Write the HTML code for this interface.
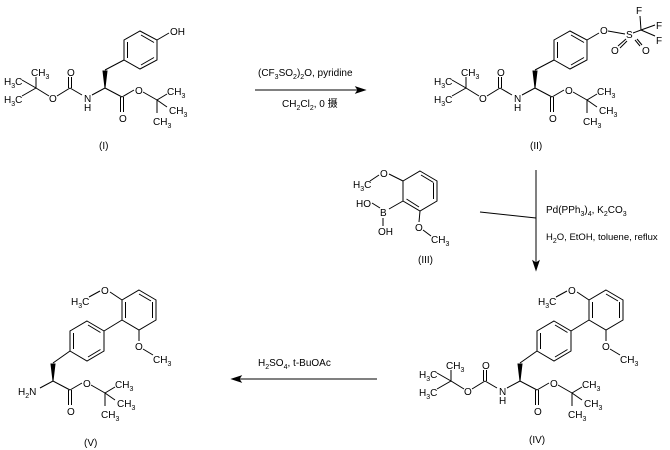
<!DOCTYPE html>
<html><head><meta charset="utf-8"><style>
html,body{margin:0;padding:0;background:#fff;}
svg{display:block;}
text{font-family:"Liberation Sans","Noto Sans CJK SC",sans-serif;font-size:10px;fill:#000;}
.s{font-size:7px;}
line,polyline,polygon{stroke:#000;stroke-width:1;fill:none;}
.f{fill:#000;}
</style></head><body>
<svg width="670" height="450" viewBox="0 0 670 450" xmlns="http://www.w3.org/2000/svg">

<!-- Compound I backbone -->
<g>
<line x1="22" y1="80" x2="36" y2="88"/><line x1="22" y1="96" x2="36" y2="88"/><line x1="36" y1="88" x2="36" y2="77"/>
<line x1="36" y1="88" x2="49" y2="96"/><line x1="57" y1="96" x2="70" y2="88"/>
<line x1="68.5" y1="88" x2="68.5" y2="77"/><line x1="71.5" y1="88" x2="71.5" y2="77"/>
<line x1="70" y1="88" x2="82" y2="95"/><line x1="92" y1="95" x2="105" y2="88"/>
<polygon class="f" points="105,88 103,71 107,71"/>
<line x1="105" y1="88" x2="122" y2="97"/>
<line x1="120.5" y1="97" x2="120.5" y2="112"/><line x1="123.5" y1="97" x2="123.5" y2="112"/>
<line x1="122" y1="97" x2="134" y2="90"/><line x1="143" y1="92" x2="157" y2="100"/>
<line x1="157" y1="100" x2="167" y2="94"/><line x1="157" y1="100" x2="167" y2="107"/><line x1="157" y1="100" x2="157" y2="113"/>
<text x="4" y="85">H<tspan class="s" dy="3">3</tspan><tspan dy="-3">C</tspan></text>
<text x="4" y="103">H<tspan class="s" dy="3">3</tspan><tspan dy="-3">C</tspan></text>
<text x="31" y="76">CH<tspan class="s" dy="3">3</tspan></text>
<text x="49" y="102">O</text>
<text x="67" y="76">O</text>
<text x="84" y="102">N</text>
<text x="84" y="111">H</text>
<text x="135" y="94">O</text>
<text x="119" y="122">O</text>
<text x="167" y="95">CH<tspan class="s" dy="3">3</tspan></text>
<text x="169" y="114">CH<tspan class="s" dy="3">3</tspan></text>
<text x="153" y="125">CH<tspan class="s" dy="3">3</tspan></text>
</g>
<polygon points="124,40 140,31 157,40 157,60 140,69 124,60"/>
<line x1="127.5" y1="42" x2="127.5" y2="58"/><line x1="141" y1="35" x2="154" y2="42.5"/><line x1="154" y1="57.5" x2="141" y2="65"/>
<line x1="105" y1="70" x2="124" y2="60"/>
<line x1="157" y1="40" x2="169" y2="33"/>
<text x="170" y="35">OH</text>
<text x="99" y="149">(I)</text>

<!-- Compound II -->
<g transform="translate(430,0)">
<line x1="22" y1="80" x2="36" y2="88"/><line x1="22" y1="96" x2="36" y2="88"/><line x1="36" y1="88" x2="36" y2="77"/>
<line x1="36" y1="88" x2="49" y2="96"/><line x1="57" y1="96" x2="70" y2="88"/>
<line x1="68.5" y1="88" x2="68.5" y2="77"/><line x1="71.5" y1="88" x2="71.5" y2="77"/>
<line x1="70" y1="88" x2="82" y2="95"/><line x1="92" y1="95" x2="105" y2="88"/>
<polygon class="f" points="105,88 103,71 107,71"/>
<line x1="105" y1="88" x2="122" y2="97"/>
<line x1="120.5" y1="97" x2="120.5" y2="112"/><line x1="123.5" y1="97" x2="123.5" y2="112"/>
<line x1="122" y1="97" x2="134" y2="90"/><line x1="143" y1="92" x2="157" y2="100"/>
<line x1="157" y1="100" x2="167" y2="94"/><line x1="157" y1="100" x2="167" y2="107"/><line x1="157" y1="100" x2="157" y2="113"/>
<text x="4" y="85">H<tspan class="s" dy="3">3</tspan><tspan dy="-3">C</tspan></text>
<text x="4" y="103">H<tspan class="s" dy="3">3</tspan><tspan dy="-3">C</tspan></text>
<text x="31" y="76">CH<tspan class="s" dy="3">3</tspan></text>
<text x="49" y="102">O</text>
<text x="67" y="76">O</text>
<text x="84" y="102">N</text>
<text x="84" y="111">H</text>
<text x="135" y="94">O</text>
<text x="119" y="122">O</text>
<text x="167" y="95">CH<tspan class="s" dy="3">3</tspan></text>
<text x="169" y="114">CH<tspan class="s" dy="3">3</tspan></text>
<text x="153" y="125">CH<tspan class="s" dy="3">3</tspan></text>
<polygon points="124,40 140,31 157,40 157,60 140,69 124,60"/>
<line x1="127.5" y1="42" x2="127.5" y2="58"/><line x1="141" y1="35" x2="154" y2="42.5"/><line x1="154" y1="57.5" x2="141" y2="65"/>
<line x1="105" y1="70" x2="124" y2="60"/>
<line x1="157" y1="40" x2="169" y2="33"/>
<text x="170" y="34">O</text>
<line x1="178" y1="31" x2="195" y2="34"/>
<text x="196" y="38">S</text>
<line x1="203" y1="33" x2="211" y2="30"/>
<line x1="188" y1="46" x2="196" y2="39"/><line x1="190" y1="48" x2="197" y2="41"/>
<line x1="205" y1="40" x2="210" y2="46"/><line x1="207" y1="39" x2="212" y2="45"/>
<text x="181" y="54">O</text><text x="212" y="54">O</text>
<line x1="211" y1="30" x2="210" y2="16"/><line x1="211" y1="30" x2="225" y2="25"/><line x1="211" y1="30" x2="225" y2="36"/>
<text x="206" y="14">F</text><text x="226" y="29">F</text><text x="226" y="44">F</text>
<text x="100" y="149">(II)</text>
</g>

<!-- Top arrow -->
<line x1="255" y1="90" x2="362" y2="90"/>
<polygon class="f" points="365,90 356,87 358,90 356,93"/>
<text x="258" y="76">(CF<tspan class="s" dy="3">3</tspan><tspan dy="-3">SO</tspan><tspan class="s" dy="3">2</tspan><tspan dy="-3">)</tspan><tspan class="s" dy="3">2</tspan><tspan dy="-3">O, pyridine</tspan></text>
<text x="282" y="107">CH<tspan class="s" dy="3">2</tspan><tspan dy="-3">Cl</tspan><tspan class="s" dy="3">2</tspan><tspan dy="-3">, 0 摄</tspan></text>

<!-- Compound III -->
<polygon points="420,171 437,181 437,201 420,211 403,201 403,181"/>
<line x1="421" y1="175" x2="433.5" y2="182.5"/><line x1="433.5" y1="183" x2="433.5" y2="199"/><line x1="406.5" y1="199" x2="419" y2="207"/>
<line x1="403" y1="201" x2="389" y2="209"/>
<text x="380" y="216">B</text>
<line x1="380" y1="208" x2="372" y2="203"/>
<text x="356" y="207">HO</text>
<line x1="383" y1="218" x2="383" y2="226"/>
<text x="378" y="235">OH</text>
<line x1="403" y1="181" x2="389" y2="174"/>
<text x="380" y="177">O</text>
<line x1="379" y1="175" x2="370" y2="181"/>
<text x="353" y="188">H<tspan class="s" dy="3">3</tspan><tspan dy="-3">C</tspan></text>
<line x1="420" y1="211" x2="419" y2="222"/>
<text x="415" y="231">O</text>
<line x1="423" y1="230" x2="431" y2="236"/>
<text x="431" y="243">CH<tspan class="s" dy="3">3</tspan></text>
<text x="418" y="263">(III)</text>

<!-- vertical arrow -->
<line x1="480" y1="212" x2="536" y2="218"/>
<line x1="536" y1="170" x2="536" y2="266"/>
<polygon class="f" points="536,270 533,261 536,263 539,261"/>
<text x="546" y="213">Pd(PPh<tspan class="s" dy="3">3</tspan><tspan dy="-3">)</tspan><tspan class="s" dy="3">4</tspan><tspan dy="-3">, K</tspan><tspan class="s" dy="3">2</tspan><tspan dy="-3">CO</tspan><tspan class="s" dy="3">3</tspan></text>
<text x="546" y="240" style="font-size:9.5px">H<tspan class="s" dy="3">2</tspan><tspan dy="-3">O, EtOH, toluene, reflux</tspan></text>

<!-- Compound IV backbone -->
<g transform="translate(415,293)">
<line x1="22" y1="80" x2="36" y2="88"/><line x1="22" y1="96" x2="36" y2="88"/><line x1="36" y1="88" x2="36" y2="77"/>
<line x1="36" y1="88" x2="49" y2="96"/><line x1="57" y1="96" x2="70" y2="88"/>
<line x1="68.5" y1="88" x2="68.5" y2="77"/><line x1="71.5" y1="88" x2="71.5" y2="77"/>
<line x1="70" y1="88" x2="82" y2="95"/><line x1="92" y1="95" x2="105" y2="88"/>
<polygon class="f" points="105,88 103,71 107,71"/>
<line x1="105" y1="88" x2="122" y2="97"/>
<line x1="120.5" y1="97" x2="120.5" y2="112"/><line x1="123.5" y1="97" x2="123.5" y2="112"/>
<line x1="122" y1="97" x2="134" y2="90"/><line x1="143" y1="92" x2="157" y2="100"/>
<line x1="157" y1="100" x2="167" y2="94"/><line x1="157" y1="100" x2="167" y2="107"/><line x1="157" y1="100" x2="157" y2="113"/>
<text x="4" y="85">H<tspan class="s" dy="3">3</tspan><tspan dy="-3">C</tspan></text>
<text x="4" y="103">H<tspan class="s" dy="3">3</tspan><tspan dy="-3">C</tspan></text>
<text x="31" y="76">CH<tspan class="s" dy="3">3</tspan></text>
<text x="49" y="102">O</text>
<text x="67" y="76">O</text>
<text x="84" y="102">N</text>
<text x="84" y="111">H</text>
<text x="135" y="94">O</text>
<text x="119" y="122">O</text>
<text x="167" y="95">CH<tspan class="s" dy="3">3</tspan></text>
<text x="169" y="114">CH<tspan class="s" dy="3">3</tspan></text>
<text x="153" y="125">CH<tspan class="s" dy="3">3</tspan></text>
</g>
<g>
<line x1="520" y1="363" x2="537" y2="351"/>
<polygon points="554,321 571,331 571,351 554,361 537,351 537,331"/>
<line x1="540.5" y1="333" x2="540.5" y2="349"/><line x1="555" y1="325" x2="567.5" y2="332.5"/><line x1="567.5" y1="349.5" x2="555" y2="357"/>
<line x1="571" y1="331" x2="589" y2="320"/>
<polygon points="606,290 623,300 623,320 606,330 589,320 589,300"/>
<line x1="592.5" y1="302" x2="592.5" y2="318"/><line x1="619.5" y1="302" x2="619.5" y2="318"/><line x1="606" y1="294" x2="618" y2="301"/>
<line x1="589" y1="300" x2="577" y2="292"/>
<text x="568" y="294">O</text>
<line x1="567" y1="291" x2="556" y2="297"/>
<text x="538" y="305">H<tspan class="s" dy="3">3</tspan><tspan dy="-3">C</tspan></text>
<line x1="606" y1="330" x2="606" y2="341"/>
<text x="602" y="350">O</text>
<line x1="610" y1="349" x2="620" y2="355"/>
<text x="620" y="363">CH<tspan class="s" dy="3">3</tspan></text>
</g>
<text x="529" y="443">(IV)</text>

<!-- Compound V -->
<g transform="translate(-52,293)">
<line x1="92" y1="95" x2="105" y2="88"/>
<polygon class="f" points="105,88 103,71 107,71"/>
<line x1="105" y1="88" x2="122" y2="97"/>
<line x1="120.5" y1="97" x2="120.5" y2="112"/><line x1="123.5" y1="97" x2="123.5" y2="112"/>
<line x1="122" y1="97" x2="134" y2="90"/><line x1="143" y1="92" x2="157" y2="100"/>
<line x1="157" y1="100" x2="167" y2="94"/><line x1="157" y1="100" x2="167" y2="107"/><line x1="157" y1="100" x2="157" y2="113"/>
<text x="70" y="102">H<tspan class="s" dy="3">2</tspan><tspan dy="-3">N</tspan></text>
<text x="135" y="94">O</text>
<text x="119" y="122">O</text>
<text x="167" y="95">CH<tspan class="s" dy="3">3</tspan></text>
<text x="169" y="114">CH<tspan class="s" dy="3">3</tspan></text>
<text x="153" y="125">CH<tspan class="s" dy="3">3</tspan></text>
</g>
<g transform="translate(-467,0)">
<line x1="520" y1="363" x2="537" y2="351"/>
<polygon points="554,321 571,331 571,351 554,361 537,351 537,331"/>
<line x1="540.5" y1="333" x2="540.5" y2="349"/><line x1="555" y1="325" x2="567.5" y2="332.5"/><line x1="567.5" y1="349.5" x2="555" y2="357"/>
<line x1="571" y1="331" x2="589" y2="320"/>
<polygon points="606,290 623,300 623,320 606,330 589,320 589,300"/>
<line x1="592.5" y1="302" x2="592.5" y2="318"/><line x1="619.5" y1="302" x2="619.5" y2="318"/><line x1="606" y1="294" x2="618" y2="301"/>
<line x1="589" y1="300" x2="577" y2="292"/>
<text x="568" y="294">O</text>
<line x1="567" y1="291" x2="556" y2="297"/>
<text x="538" y="305">H<tspan class="s" dy="3">3</tspan><tspan dy="-3">C</tspan></text>
<line x1="606" y1="330" x2="606" y2="341"/>
<text x="602" y="350">O</text>
<line x1="610" y1="349" x2="620" y2="355"/>
<text x="620" y="363">CH<tspan class="s" dy="3">3</tspan></text>
</g>
<text x="84" y="446">(V)</text>

<!-- bottom arrow -->
<line x1="236" y1="379" x2="377" y2="379"/>
<polygon class="f" points="232,379 241,376 239,379 241,382"/>
<text x="258" y="366">H<tspan class="s" dy="3">2</tspan><tspan dy="-3">SO</tspan><tspan class="s" dy="3">4</tspan><tspan dy="-3">, t-BuOAc</tspan></text>
</svg>
</body></html>
